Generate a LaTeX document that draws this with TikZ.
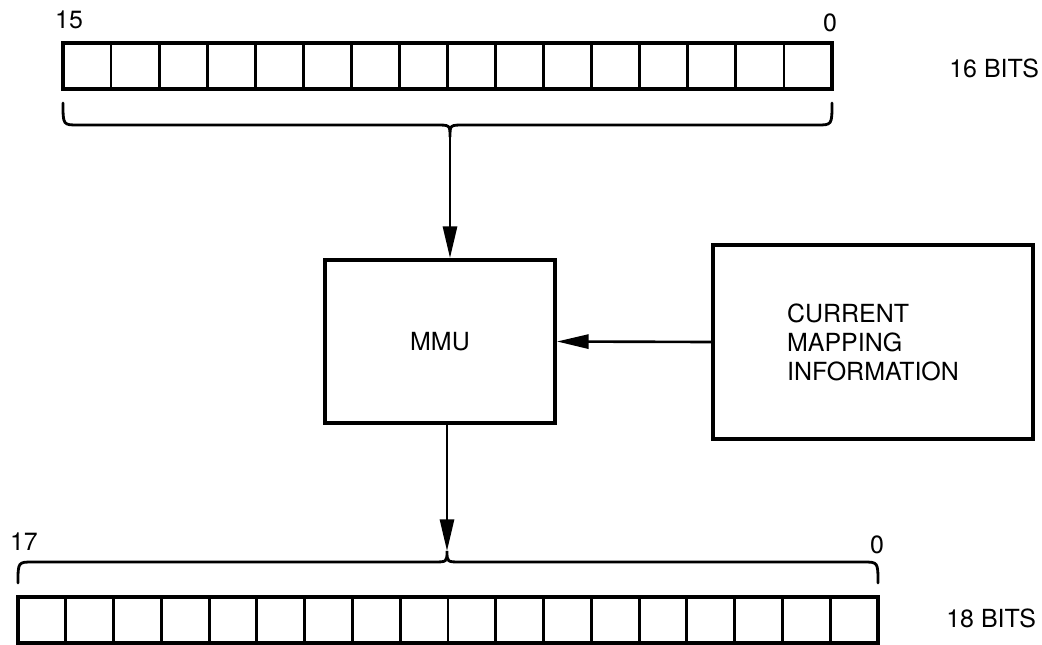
\documentclass[tikz,border=0pt]{standalone}
\usepackage{fontspec}
\setmainfont{TeX Gyre Heros}
\usetikzlibrary{arrows.meta}

\begin{document}
\begin{tikzpicture}[
  x=0.02cm,
  y=-0.02cm,
  every node/.style={font=\fontsize{14.2}{16.5}\selectfont, black},
  regbox/.style={draw, line width=2.2pt, inner sep=0pt},
  cellline/.style={line width=1.6pt},
  bitbrace/.style={line width=1.6pt, line cap=round},
  flow/.style={line width=1.5pt, -{Triangle[length=18pt, width=8pt]}},
  block/.style={draw, line width=2.2pt, inner sep=0pt},
  numlab/.style={inner sep=0pt},
  bitslab/.style={anchor=west, inner sep=0pt}
]
  % ---- fixed bounding box, same size as the reference ----
  \useasboundingbox (0,0) rectangle (1042,645);

  % ---- 16 bit register (top) ----
  \node[regbox, minimum width=15.38cm, minimum height=0.92cm] (topreg) at (447.5,66) {};
  \foreach \i in {1,...,15}
    \draw[cellline] ({63+769*\i/16},43) -- ({63+769*\i/16},89);
  \node[numlab] (topmsb) at (69,20) {15};
  \node[numlab] (toplsb) at (830,23) {0};
  \node[bitslab] (topbits) at (949,68) {16 BITS};

  % ---- brace under the top register ----
  \draw[bitbrace] (63,103) .. controls (63,125) .. (78,125) -- (436,125)
    .. controls (450,125) .. (450,137) .. controls (450,125) .. (464,125)
    -- (817,125) .. controls (832,125) .. (832,103);
  \coordinate (topcusp) at (450,137);

  % ---- MMU and mapping information ----
  \node[block, minimum width=4.6cm, minimum height=3.26cm] (mmu) at (440,341.5) {MMU};
  \node[block, minimum width=6.4cm, minimum height=3.88cm, align=left] (cmi) at (873,342)
    {CURRENT\\MAPPING\\INFORMATION};

  % ---- brace over the bottom register ----
  \draw[bitbrace] (18,583) .. controls (18,562) .. (33,562) -- (433,562)
    .. controls (447,562) .. (447,551) .. controls (447,562) .. (461,562)
    -- (863,562) .. controls (878,562) .. (878,583);
  \coordinate (botcusp) at (447,551);

  % ---- 18 bit register (bottom) ----
  \node[regbox, minimum width=17.2cm, minimum height=0.92cm] (botreg) at (448,620) {};
  \foreach \i in {1,...,17}
    \draw[cellline] ({18+860*\i/18},597) -- ({18+860*\i/18},643);
  \node[numlab] (botmsb) at (24,542) {17};
  \node[numlab] (botlsb) at (877,545) {0};
  \node[bitslab] (botbits) at (946,618) {18 BITS};

  % ---- connectors ----
  \draw[flow] (topcusp) -- (topcusp |- mmu.north);
  \draw[flow] (cmi.west) -- (mmu.east);
  \draw[flow] (mmu.south -| botcusp) -- (botcusp);
\end{tikzpicture}
\end{document}
